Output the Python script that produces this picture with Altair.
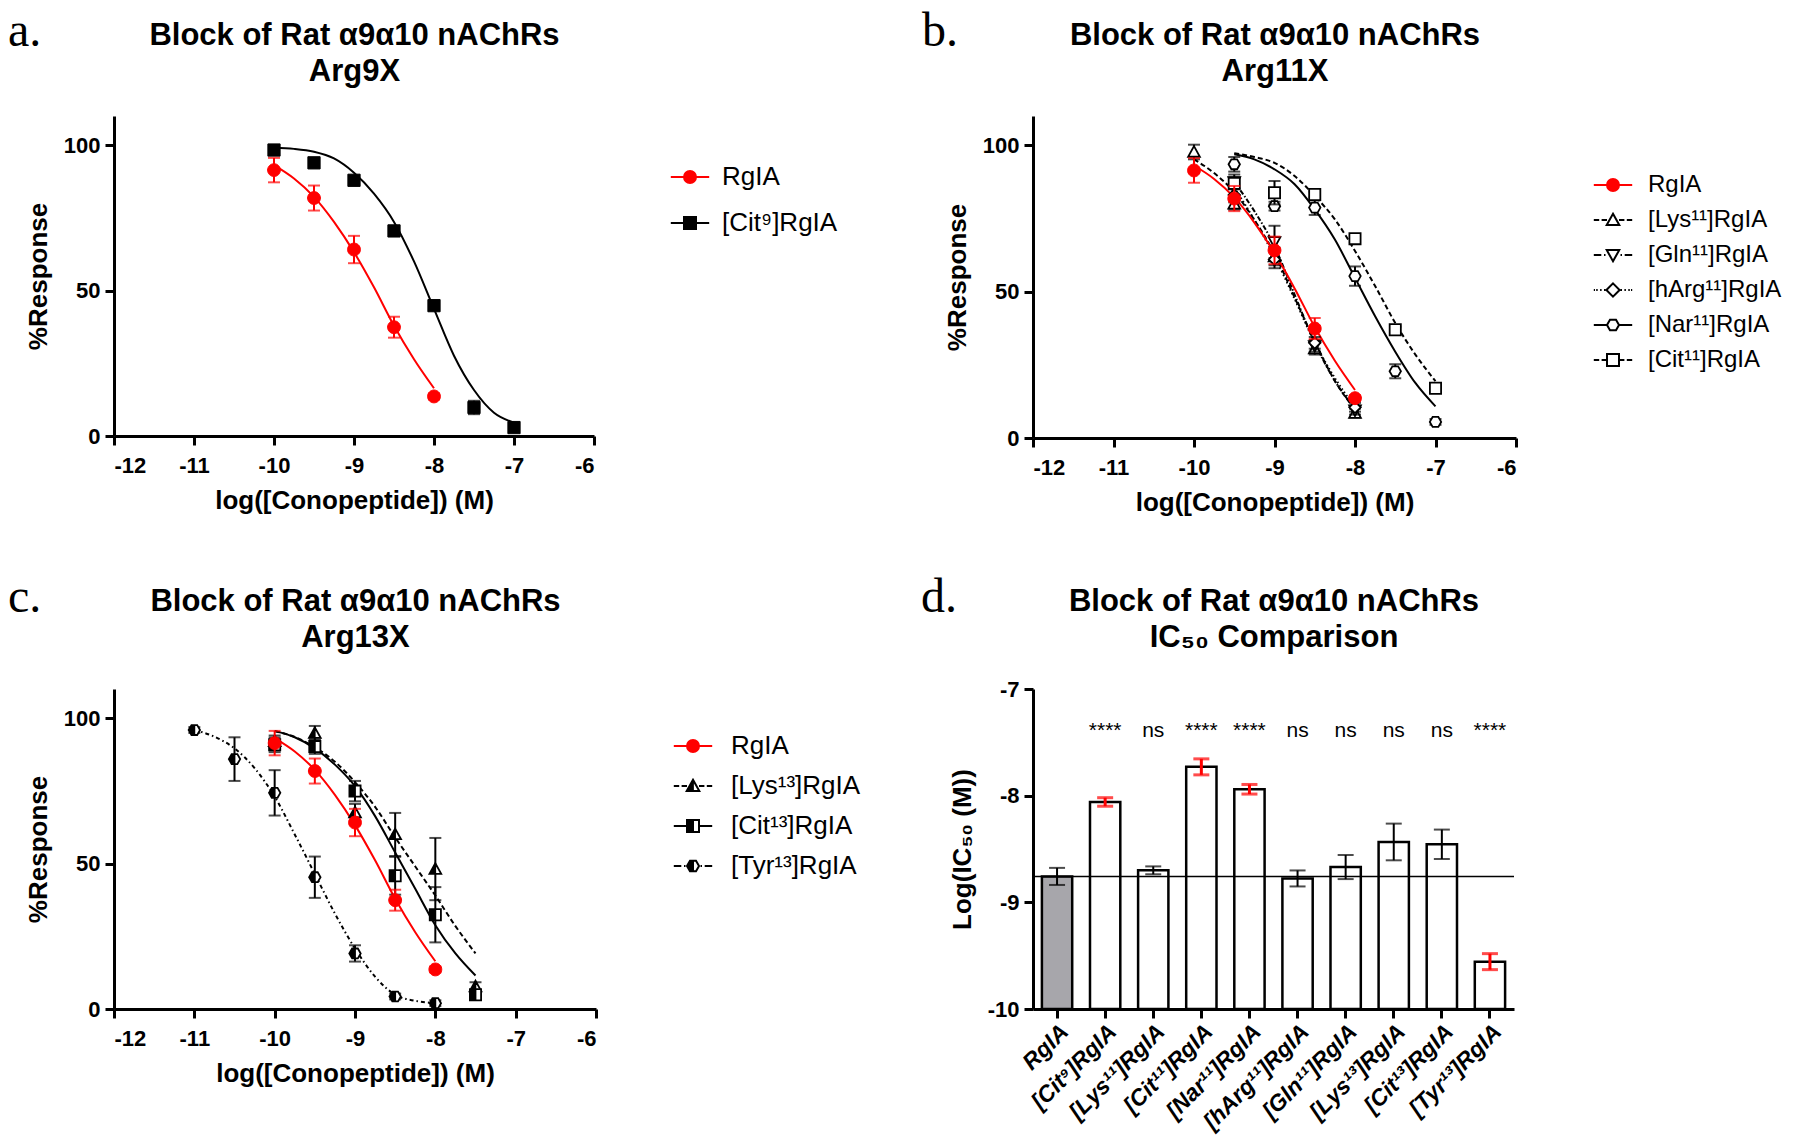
import altair as alt
import pandas as pd

FONT = "Liberation Sans"
SERIF = "Liberation Serif"
RED = "#ff0000"
GRAY = "#a7a6ab"

# ----------------------------------------------------------------- names
N_RGIA = "RgIA"
N_CIT9 = "[Cit⁹]RgIA"
N_LYS11 = "[Lys¹¹]RgIA"
N_GLN11 = "[Gln¹¹]RgIA"
N_HARG11 = "[hArg¹¹]RgIA"
N_NAR11 = "[Nar¹¹]RgIA"
N_CIT11 = "[Cit¹¹]RgIA"
N_LYS13 = "[Lys¹³]RgIA"
N_CIT13 = "[Cit¹³]RgIA"
N_TYR13 = "[Tyr¹³]RgIA"

# ----------------------------------------------------------------- data
rgia_x = [-10, -9.5, -9, -8.5, -8]
rgia_mean = [91.4, 81.8, 64.1, 37.4, 13.6]
rgia_sem = [4.2, 4.3, 4.7, 3.6, 1.0]
rgia_fit_x = [-10, -9.75, -9.5, -9.25, -9, -8.75, -8.5, -8.25, -8]
rgia_fit_y = [93.1, 88.5, 82.2, 73.6, 63.2, 51.1, 37.9, 26.4, 16.4]

cit9_x = [-10, -9.5, -9, -8.5, -8, -7.5, -7]
cit9_mean = [98.3, 93.9, 87.9, 70.5, 44.8, 9.8, 2.9]
cit9_sem = [1.5, 1.0, 1.5, 1.0, 1.0, 2.3, 1.0]
cit9_fit_x = [-10, -9.75, -9.5, -9.25, -9, -8.75, -8.5, -8.25, -8, -7.75, -7.5, -7.25, -7]
cit9_fit_y = [99.1, 98.7, 97.7, 95.4, 90.5, 83.3, 73.6, 60.0, 43.7, 27.6, 15.8, 8.0, 4.6]

lys11_x = [-10, -9.5, -9, -8.5, -8]
lys11_mean = [97.7, 80.0, 62.0, 30.5, 8.5]
lys11_sem = [2.5, 2.0, 3.0, 2.0, 1.5]
lys11_fit_x = [-10, -9.75, -9.5, -9.25, -9, -8.75, -8.5, -8.25, -8]
lys11_fit_y = [95.2, 90.5, 84.0, 74.5, 63.0, 48.0, 33.0, 19.5, 9.7]

gln11_x = [-9.5, -9, -8.5, -8]
gln11_mean = [87.5, 67.0, 31.5, 9.5]
gln11_sem = [2.5, 5.5, 2.0, 1.5]
gln11_fit_x = [-9.5, -9.25, -9, -8.75, -8.5, -8.25, -8]
gln11_fit_y = [87.5, 77.5, 65.5, 49.0, 32.5, 19.5, 10.0]

harg11_x = [-9.5, -9, -8.5, -8]
harg11_mean = [83.0, 61.0, 32.5, 10.5]
harg11_sem = [2.5, 3.0, 2.0, 1.5]
harg11_fit_x = [-9.5, -9.25, -9, -8.75, -8.5, -8.25, -8]
harg11_fit_y = [85.5, 74.5, 62.0, 47.5, 32.5, 20.5, 10.5]

nar11_x = [-9.5, -9, -8.5, -8, -7.5, -7]
nar11_mean = [93.5, 79.2, 78.7, 55.3, 22.8, 5.5]
nar11_sem = [2.5, 1.5, 2.5, 3.3, 2.4, 1.0]
nar11_fit_x = [-9.5, -9.25, -9, -8.75, -8.5, -8.25, -8, -7.75, -7.5, -7.25, -7]
nar11_fit_y = [96.9, 95.2, 91.8, 86.7, 78.1, 67.8, 54.7, 41.6, 29.5, 18.8, 10.8]

cit11_x = [-9.5, -9, -8.5, -8, -7.5, -7]
cit11_mean = [87.0, 83.8, 83.2, 68.1, 37.0, 17.0]
cit11_sem = [2.0, 4.0, 1.0, 1.0, 1.0, 1.0]
cit11_fit_x = [-9.5, -9.25, -9, -8.75, -8.5, -8.25, -8, -7.75, -7.5, -7.25, -7]
cit11_fit_y = [97.3, 96.0, 94.0, 89.5, 82.7, 74.7, 63.9, 51.9, 39.3, 28.5, 19.4]

lys13_x = [-10, -9.5, -9, -8.5, -8, -7.5]
lys13_mean = [92.0, 94.8, 67.5, 60.0, 48.1, 7.7]
lys13_sem = [2.0, 2.5, 3.0, 7.4, 10.7, 1.5]
lys13_fit_x = [-10, -9.75, -9.5, -9.25, -9, -8.75, -8.5, -8.25, -8, -7.75, -7.5]
lys13_fit_y = [95.5, 93.5, 90.0, 85.0, 78.0, 69.5, 59.0, 49.0, 39.0, 28.5, 19.1]

cit13_x = [-10, -9.5, -9, -8.5, -8, -7.5]
cit13_mean = [90.8, 90.2, 74.9, 45.8, 32.4, 4.9]
cit13_sem = [2.5, 2.5, 3.5, 6.5, 9.5, 1.5]
cit13_fit_x = [-10, -9.75, -9.5, -9.25, -9, -8.75, -8.5, -8.25, -8, -7.75, -7.5]
cit13_fit_y = [95.6, 93.4, 89.6, 84.0, 76.6, 66.3, 53.8, 41.3, 28.8, 19.1, 11.5]

tyr13_x = [-11, -10.5, -10, -9.5, -9, -8.5, -8]
tyr13_mean = [95.9, 85.9, 74.3, 45.3, 19.1, 4.3, 2.0]
tyr13_sem = [1.0, 7.5, 7.8, 7.1, 2.8, 1.0, 1.0]
tyr13_fit_x = [-11, -10.75, -10.5, -10.25, -10, -9.75, -9.5, -9.25, -9, -8.75, -8.5, -8.25, -8]
tyr13_fit_y = [95.9, 93.6, 89.6, 82.8, 73.0, 60.0, 46.4, 32.8, 20.8, 11.1, 4.9, 2.8, 2.0]

# panel d
d_names = [N_RGIA, N_CIT9, N_LYS11, N_CIT11, N_NAR11, N_HARG11, N_GLN11, N_LYS13, N_CIT13, N_TYR13]
d_log_ic50 = [-8.757, -8.059, -8.70, -7.73, -7.94, -8.776, -8.669, -8.434, -8.456, -9.556]
d_sem = [0.08, 0.04, 0.037, 0.075, 0.045, 0.075, 0.113, 0.172, 0.138, 0.075]
d_sig = ["", "****", "ns", "****", "****", "ns", "ns", "ns", "ns", "****"]

X_TICKS = [-12, -11, -10, -9, -8, -7, -6]
Y_TICKS = [0, 50, 100]
D_TICKS = [-10, -9, -8, -7]

TITLE_1 = "Block of Rat α9α10 nAChRs"

# ----------------------------------------------------------------- marker shapes (unit box [-1,1])
def poly(pts):
    return "M" + "L".join(f"{x:g},{y:g}" for x, y in pts) + "Z"


def hatch(top, bot, x0=-0.98, step=0.14):
    out, x = [], x0
    while x < 0.015:
        out.append(f"M{x:.2f},{top(x):.2f}L{x:.2f},{bot(x):.2f}")
        x += step
    return "".join(out)


def mirror(segs):
    return "".join(f"M{a},0L{b},0M{-a},0L{-b},0" for a, b in segs)


CIRCLE = "M1,0A1,1,0,1,1,-1,0A1,1,0,1,1,1,0Z"
SQUARE = poly([(-1, -1), (1, -1), (1, 1), (-1, 1)])
TRI_UP = poly([(0, -1.05), (1.05, 0.85), (-1.05, 0.85)])
TRI_DN = poly([(0, 1.05), (1.05, -0.85), (-1.05, -0.85)])
DIAMOND = poly([(0, -1.1), (1.1, 0), (0, 1.1), (-1.1, 0)])
HEXAGON = poly([(-1, 0), (-0.5, -0.87), (0.5, -0.87), (1, 0), (0.5, 0.87), (-0.5, 0.87)])
TRI_UP_HALF = TRI_UP + hatch(lambda x: -1.05 - 1.81 * x, lambda x: 0.85, x0=-1.0)
SQUARE_HALF = SQUARE + hatch(lambda x: -1.0, lambda x: 1.0)
HEX_HALF = HEXAGON + hatch(lambda x: -1.74 * (x + 1) if x < -0.5 else -0.87,
                           lambda x: 1.74 * (x + 1) if x < -0.5 else 0.87)

L_SOLID = mirror([(1, 3.2)])
L_DASH = mirror([(1, 1.9), (2.3, 3.2)])
L_DASHDOT = mirror([(1.25, 1.5), (1.95, 3.2)])
L_DOT = mirror([(1.25, 1.5), (1.9, 2.15), (2.55, 2.8), (3.0, 3.2)])

STYLE = {
    N_RGIA: dict(color=RED, shape=CIRCLE, fill=RED, size=165, sw=1, dash=None, leg=L_SOLID),
    N_CIT9: dict(color="black", shape=SQUARE, fill="black", size=150, sw=1, dash=None, leg=L_SOLID),
    N_LYS11: dict(color="black", shape=TRI_UP, fill="white", size=125, sw=1.8, dash=[5, 3], leg=L_DASH),
    N_GLN11: dict(color="black", shape=TRI_DN, fill="white", size=125, sw=1.8, dash=[5, 2, 1.5, 2], leg=L_DASHDOT),
    N_HARG11: dict(color="black", shape=DIAMOND, fill="white", size=110, sw=1.8, dash=[1.5, 2.5], leg=L_DOT),
    N_NAR11: dict(color="black", shape=HEXAGON, fill="white", size=130, sw=1.8, dash=None, leg=L_SOLID),
    N_CIT11: dict(color="black", shape=SQUARE, fill="white", size=125, sw=1.8, dash=[5, 3], leg=L_DASH),
    N_LYS13: dict(color="black", shape=TRI_UP_HALF, fill="white", size=125, sw=1.8, dash=[5, 3], leg=L_DASH),
    N_CIT13: dict(color="black", shape=SQUARE_HALF, fill="white", size=125, sw=1.8, dash=None, leg=L_SOLID),
    N_TYR13: dict(color="black", shape=HEX_HALF, fill="white", size=130, sw=1.8, dash=[4, 3, 1.5, 3], leg=L_DASHDOT),
}


def ser(name, x, m, s, fx, fy):
    return dict(name=name, x=x, m=m, s=s, fx=fx, fy=fy)


RGIA = ser(N_RGIA, rgia_x, rgia_mean, rgia_sem, rgia_fit_x, rgia_fit_y)


def top_axis(lines, pad):
    # the two-line panel heading, centred over the plot area
    return alt.Axis(orient="top", domain=False, ticks=False, labels=False, grid=False,
                    title=lines, titleFont=FONT, titleFontSize=31, titleFontWeight="bold",
                    titleLineHeight=35.5, titleBaseline="bottom", titlePadding=pad, titleAngle=0)


def letter_title(letter, dx):
    return alt.TitleParams(text=letter, font=SERIF, fontSize=48, fontWeight="normal", color="black",
                           anchor="start", frame="group", baseline="alphabetic", offset=-74.5, dx=dx)


def xy_panel(series_list, heading, letter, let_dx, width, height, leg_x, leg_y, row_pad, lab_off, tpad,
             leg_font):
    xs = alt.Scale(domain=[-12, -6], nice=False, zero=False)
    ys = alt.Scale(domain=[0, 110], nice=False, zero=False)
    xax = alt.Axis(values=X_TICKS, title="log([Conopeptide]) (M)", labelExpr="'' + datum.value",
                   labelPadding=10, titlePadding=11)
    yax = alt.Axis(values=Y_TICKS, title="%Response", labelExpr="'' + datum.value",
                   labelPadding=5, titlePadding=12)

    def Xq(f, ax=None):
        return alt.X(f"{f}:Q", scale=xs, axis=ax)

    def Yq(f):
        return alt.Y(f"{f}:Q", scale=ys, axis=yax)

    order = [s for s in series_list if s["name"] != N_RGIA] + [s for s in series_list if s["name"] == N_RGIA]
    curves, marks = [], []
    for i, s in enumerate(order):
        st = STYLE[s["name"]]
        fit = pd.DataFrame({"x": s["fx"], "y": s["fy"]})
        kw = dict(color=st["color"], strokeWidth=2, interpolate="monotone")
        if st["dash"]:
            kw["strokeDash"] = st["dash"]
        curves.append(alt.Chart(fit).mark_line(**kw).encode(x=Xq("x", xax if i == 0 else None), y=Yq("y")))
        df = pd.DataFrame({"x": s["x"], "m": s["m"], "s": s["s"]})
        base = alt.Chart(df).transform_calculate(lo="datum.m - datum.s", hi="datum.m + datum.s")
        marks.append(base.mark_rule(color=st["color"], strokeWidth=2).encode(
            x=Xq("x"), y=Yq("lo"), y2=alt.Y2("hi")))
        marks.append(base.transform_fold(["lo", "hi"], as_=["k", "v"]).mark_tick(
            orient="horizontal", color=st["color"], thickness=2, size=12).encode(x=Xq("x"), y=Yq("v")))
        marks.append(alt.Chart(df).mark_point(
            shape=st["shape"], size=st["size"], filled=True, fill=st["fill"], stroke=st["color"],
            strokeWidth=st["sw"], opacity=1).encode(x=Xq("x"), y=Yq("m")))

    names = [s["name"] for s in series_list]
    paths = [STYLE[n]["leg"] + STYLE[n]["shape"] for n in names]
    fills = [STYLE[n]["fill"] for n in names]
    strokes = [STYLE[n]["color"] for n in names]
    leg = alt.Legend(title=None, orient="none", legendX=leg_x, legendY=leg_y, labelFont=FONT,
                     labelFontSize=leg_font, labelColor="black", symbolSize=144, symbolStrokeWidth=2,
                     labelOffset=lab_off, rowPadding=row_pad, padding=0, labelLimit=400)
    legend_layer = alt.Chart(pd.DataFrame({"series": names, "x": [-9.0] * len(names)})).transform_filter(
        "false").mark_point(filled=True, opacity=1, strokeWidth=2).encode(
        x=Xq("x", top_axis([TITLE_1, heading], tpad)),
        shape=alt.Shape("series:N", scale=alt.Scale(domain=names, range=paths), legend=leg),
        fill=alt.Fill("series:N", scale=alt.Scale(domain=names, range=fills), legend=leg),
        stroke=alt.Stroke("series:N", scale=alt.Scale(domain=names, range=strokes), legend=leg),
    )
    return alt.layer(*curves, *marks, legend_layer).resolve_axis(x="independent").properties(
        width=width, height=height, title=letter_title(letter, let_dx))


pa = xy_panel([RGIA, ser(N_CIT9, cit9_x, cit9_mean, cit9_sem, cit9_fit_x, cit9_fit_y)],
              "Arg9X", "a.", -106, 480, 320, 563, 48, 20, 19, 29, 26)

pb = xy_panel([RGIA,
               ser(N_LYS11, lys11_x, lys11_mean, lys11_sem, lys11_fit_x, lys11_fit_y),
               ser(N_GLN11, gln11_x, gln11_mean, gln11_sem, gln11_fit_x, gln11_fit_y),
               ser(N_HARG11, harg11_x, harg11_mean, harg11_sem, harg11_fit_x, harg11_fit_y),
               ser(N_NAR11, nar11_x, nar11_mean, nar11_sem, nar11_fit_x, nar11_fit_y),
               ser(N_CIT11, cit11_x, cit11_mean, cit11_sem, cit11_fit_x, cit11_fit_y)],
              "Arg11X", "b.", -111, 483, 322, 568, 57, 11, 23, 29, 24)

pc = xy_panel([RGIA,
               ser(N_LYS13, lys13_x, lys13_mean, lys13_sem, lys13_fit_x, lys13_fit_y),
               ser(N_CIT13, cit13_x, cit13_mean, cit13_sem, cit13_fit_x, cit13_fit_y),
               ser(N_TYR13, tyr13_x, tyr13_mean, tyr13_sem, tyr13_fit_x, tyr13_fit_y)],
              "Arg13X", "c.", -106, 482, 320, 566, 44, 14, 25, 36, 26)

# ----------------------------------------------------------------- panel d
df_d = pd.DataFrame({"name": d_names, "v": d_log_ic50, "s": d_sem, "sig": d_sig})
xs_d = alt.Scale(domain=d_names, paddingInner=0.37, paddingOuter=0.185)
ys_d = alt.Scale(domain=[-10, -7], nice=False, zero=False)
xax_d = alt.Axis(title=None, labelAngle=315, labelFontStyle="italic", labelFontSize=23,
                 labelAlign="right", labelBaseline="top", labelPadding=2, labelLimit=400)
yax_d = alt.Axis(values=D_TICKS, title="Log(IC₅₀ (M))", labelExpr="'' + datum.value",
                 labelPadding=5, titlePadding=12)


def Xd(ax=None):
    return alt.X("name:N", scale=xs_d, axis=ax)


def Yd(f):
    return alt.Y(f"{f}:Q", scale=ys_d, axis=yax_d)


base_d = alt.Chart(df_d)
bars = base_d.mark_bar(stroke="black", strokeWidth=2.5).encode(
    x=Xd(xax_d), y=Yd("v"), y2=alt.datum(-10),
    fill=alt.condition(f"datum.name == '{N_RGIA}'", alt.value(GRAY), alt.value("white")))
ref_line = alt.Chart(pd.DataFrame({"v": [d_log_ic50[0]]})).mark_rule(color="black", strokeWidth=1.5).encode(
    y=Yd("v"))
err_base = base_d.transform_calculate(lo="datum.v - datum.s", hi="datum.v + datum.s")
d_layers = [bars, ref_line]
for test, col, w in [("datum.sig != '****'", "black", 2), ("datum.sig == '****'", RED, 3)]:
    eb = err_base.transform_filter(test)
    d_layers.append(eb.mark_rule(color=col, strokeWidth=w).encode(x=Xd(), y=Yd("lo"), y2=alt.Y2("hi")))
    d_layers.append(eb.transform_fold(["lo", "hi"], as_=["k", "v2"]).mark_tick(
        orient="horizontal", color=col, thickness=w, size=16).encode(x=Xd(), y=Yd("v2")))
sig_text = base_d.mark_text(font=FONT, fontSize=21, baseline="alphabetic", color="black").encode(
    x=Xd(top_axis([TITLE_1, "IC₅₀ Comparison"], 36)),
    y=alt.YDatum(-7.45, scale=ys_d, axis=yax_d),
    text="sig:N")
d_layers.append(sig_text)
pd_ = alt.layer(*d_layers).resolve_axis(x="independent").properties(
    width=481, height=320, title=letter_title("d.", -112))

# ----------------------------------------------------------------- layout
chart = alt.concat(pa, pb, pc, pd_, columns=2, bounds="flush",
                   spacing={"row": 251, "column": 437})
chart = chart.resolve_scale(shape="independent", fill="independent", stroke="independent")
chart = chart.properties(padding={"left": 0, "top": 0, "right": 0, "bottom": 2})
chart = chart.configure_view(stroke=None).configure_axis(
    domainColor="black", domainWidth=3, tickColor="black", tickWidth=3, tickSize=9,
    labelColor="black", labelFont=FONT, labelFontSize=22, labelFontWeight="bold",
    titleColor="black", titleFont=FONT, titleFontSize=26, titleFontWeight="bold", grid=False)

chart.save("out.html", embed_options={"renderer": "svg", "actions": False})
